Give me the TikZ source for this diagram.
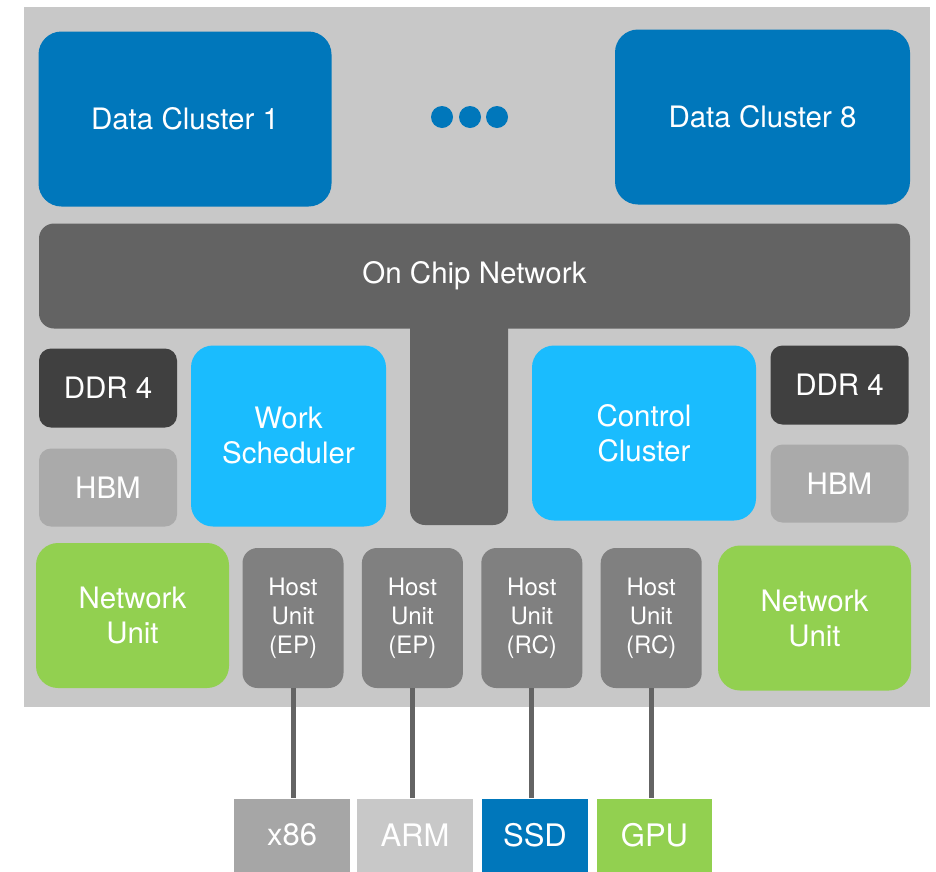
\documentclass[tikz,border=0pt]{standalone}
\usepackage{fontspec}
\setmainfont{TeX Gyre Heros}
\usepackage{xcolor}
\usetikzlibrary{positioning}

\definecolor{clusterblue}{RGB}{0,119,187}
\definecolor{lightblue}{RGB}{26,188,254}
\definecolor{unitgreen}{RGB}{146,208,80}
\definecolor{netgray}{RGB}{99,99,99}
\definecolor{ddrgray}{RGB}{64,64,64}
\definecolor{hbmgray}{RGB}{170,170,170}
\definecolor{hostgray}{RGB}{128,128,128}
\definecolor{chipgray}{RGB}{200,200,200}
\definecolor{x86gray}{RGB}{166,166,166}
\definecolor{linegray}{RGB}{100,100,100}

\begin{document}
\begin{tikzpicture}[x=1pt, y=-1pt,
    box/.style={rectangle, inner sep=0pt, align=center, text=white, font=\fontsize{29.5}{35}\selectfont},
    cluster/.style={box, fill=clusterblue, rounded corners=23pt, minimum width=293pt, minimum height=175pt},
    dot/.style={circle, fill=clusterblue, minimum size=22pt, inner sep=0pt},
    bar/.style={box, fill=netgray, rounded corners=15pt},
    ddr/.style={box, fill=ddrgray, rounded corners=12pt, minimum width=138pt, minimum height=79pt},
    hbm/.style={box, fill=hbmgray, rounded corners=12pt, minimum width=138pt, minimum height=78pt},
    core/.style={box, fill=lightblue, rounded corners=22pt},
    netunit/.style={box, fill=unitgreen, rounded corners=22pt, minimum width=193pt, minimum height=145pt},
    hostunit/.style={box, fill=hostgray, rounded corners=15pt, minimum width=101pt, minimum height=140pt, font=\fontsize{24}{29}\selectfont},
    ext/.style={box, minimum height=73pt, font=\fontsize{31}{36}\selectfont},
    link/.style={line width=5pt, draw=linegray}
]
    \useasboundingbox (0,0) rectangle (936,871);
    \fill[chipgray] (24,7) rectangle (930,707);

    \node[cluster] (dc1) at (185,119) {Data Cluster 1};
    \node[cluster, minimum width=295pt] (dc8) at (762.5,117) {Data Cluster 8};
    \foreach \i/\x in {1/442,2/470,3/497}
        \node[dot] (dot\i) at (\x,117) {};

    \node[bar, minimum width=98pt, minimum height=220pt] (stem) at (459,415) {};
    \node[bar, minimum width=871pt, minimum height=105pt] (noc) at (474.5,276) {On Chip Network};

    \node[ddr] (ddrl) at (108,388) {DDR 4};
    \node[hbm] (hbml) at (108,487.5) {HBM};
    \node[ddr] (ddrr) at (839.5,385) {DDR 4};
    \node[hbm] (hbmr) at (839.5,483.5) {HBM};

    \node[core, minimum width=195pt, minimum height=181pt] (sched) at (288.5,436) {Work\\Scheduler};
    \node[core, minimum width=224pt, minimum height=175pt] (ctrl) at (644,433) {Control\\Cluster};

    \node[netunit] (nul) at (132.5,615.5) {Network\\Unit};
    \node[netunit] (nur) at (814.5,618) {Network\\Unit};

    \node[hostunit] (hu1) at (293,618) {Host\\Unit\\(EP)};
    \node[hostunit, right=18pt of hu1] (hu2) {Host\\Unit\\(EP)};
    \node[hostunit, right=18pt of hu2] (hu3) {Host\\Unit\\(RC)};
    \node[hostunit, right=18pt of hu3] (hu4) {Host\\Unit\\(RC)};

    \node[ext, fill=x86gray, minimum width=116pt] (x86) at (292,835) {x86};
    \node[ext, fill=chipgray, minimum width=116pt] (arm) at (415,835) {ARM};
    \node[ext, fill=clusterblue, minimum width=106pt] (ssd) at (535,835) {SSD};
    \node[ext, fill=unitgreen, minimum width=115pt] (gpu) at (654.5,835) {GPU};

    \draw[link] (hu1.south) -- (hu1.south |- x86.north);
    \draw[link] (hu2.south) -- (hu2.south |- arm.north);
    \draw[link] (hu3.south) -- (hu3.south |- ssd.north);
    \draw[link] (hu4.south) -- (hu4.south |- gpu.north);
\end{tikzpicture}
\end{document}
